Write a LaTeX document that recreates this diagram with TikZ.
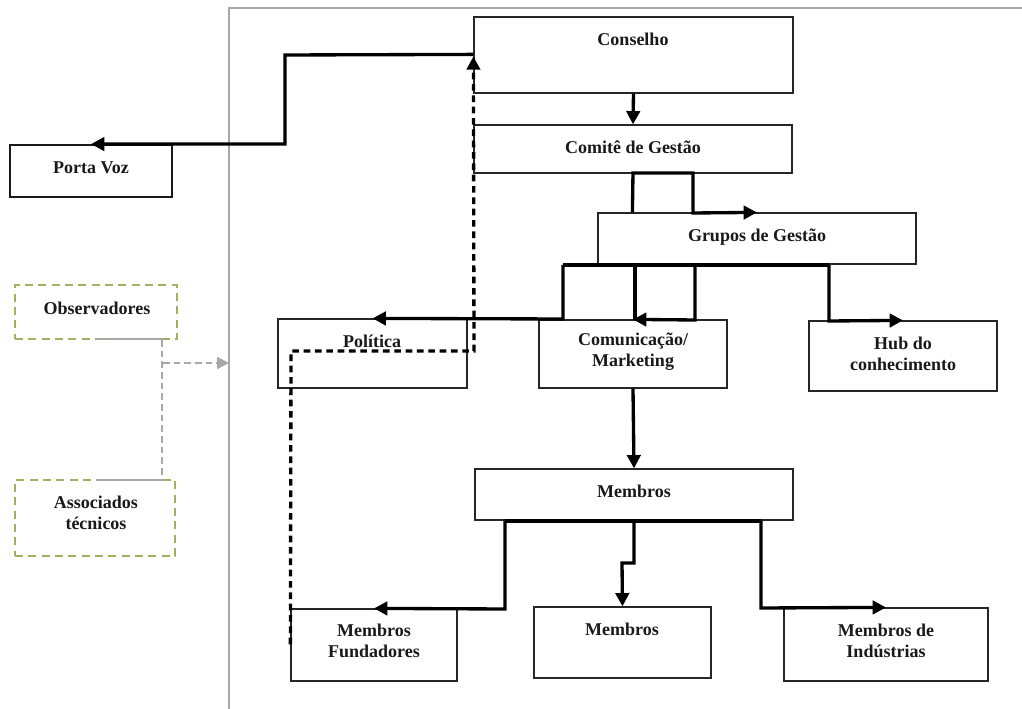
\documentclass[tikz,border=0pt]{standalone}
\usepackage{fontspec}
\setmainfont{Liberation Serif}
\usetikzlibrary{arrows.meta,calc}
\definecolor{boxgreen}{HTML}{9BB35F}
\definecolor{framegray}{HTML}{A8A8A8}
\newcommand\mybox[6]{\node[#6, minimum width={(#4-#2)*0.75pt}, minimum height={(#5-#3)*0.75pt}] (#1) at ({(#2+#4)/2},{(#3+#5)/2}) {};}
\begin{document}
\begin{tikzpicture}[x=0.75pt,y=-0.75pt,
  box/.style={draw=black!85, line width=0.9pt, inner sep=0pt, rectangle},
  pbox/.style={draw=black!90, line width=1.4pt, inner sep=0pt, rectangle},
  gbox/.style={draw=boxgreen, line width=1.7pt, dash pattern=on 6pt off 4pt, inner sep=0pt, rectangle},
  lbl/.style={font=\bfseries\fontsize{13.5}{15.5}\selectfont, align=center, inner sep=0pt, text=black!90},
  line/.style={line width=2.5pt},
  conn/.style={line width=2.5pt, -{Triangle[length=10pt,width=10pt]}},
  dconn/.style={line width=2.5pt, dash pattern=on 5pt off 3.5pt, -{Triangle[length=10pt,width=10pt]}},
  gline/.style={draw=framegray, line width=1.6pt},
  gdash/.style={draw=framegray, line width=1.6pt, dash pattern=on 5pt off 3pt},
  gconn/.style={draw=framegray, line width=1.6pt, dash pattern=on 5pt off 3pt, -{Triangle[length=9pt,width=9pt]}, fill=framegray},
  frame/.style={draw=framegray, line width=1.5pt}
]
\useasboundingbox (0,0) rectangle (1022,709);
% frame
\draw[frame] (229,709) -- (229,8) -- (1022,8);

% boxes
\mybox{porta}{10}{145}{172}{197}{pbox}
\mybox{conselho}{474}{17}{793}{93}{box}
\mybox{comite}{474}{125}{792}{173}{box}
\mybox{grupos}{598}{213}{916}{264}{box}
\mybox{politica}{278}{319}{467}{388}{box}
\mybox{comunic}{539}{320}{727}{388}{box}
\mybox{hub}{809}{321}{997}{391}{box}
\mybox{membros}{475}{469}{793}{520}{box}
\mybox{fund}{291}{609}{457}{681}{box}
\mybox{membrosb}{534}{607}{711}{678}{box}
\mybox{indust}{784}{608}{988}{681}{box}
\mybox{obs}{15}{285}{177}{339}{gbox}
\mybox{assoc}{15}{480}{175}{556}{gbox}

% labels
\node[lbl] (t-porta) at (91,168) {Porta Voz};
\node[lbl] (t-conselho) at (633,39) {Conselho};
\node[lbl] (t-comite) at (633,147) {Comitê de Gestão};
\node[lbl] (t-grupos) at (757,237) {Grupos de Gestão};
\node[lbl] (t-politica) at (372,341) {Política};
\node[lbl] (t-comunic) at (633,352) {Comunicação/\\Marketing};
\node[lbl] (t-hub) at (903,354) {Hub do\\conhecimento};
\node[lbl] (t-membros) at (634,491) {Membros};
\node[lbl] (t-fund) at (374,641) {Membros\\Fundadores};
\node[lbl] (t-membrosb) at (622,629) {Membros};
\node[lbl] (t-indust) at (886,641) {Membros de\\Indústrias};
\node[lbl] (t-obs) at (97,308) {Observadores};
\node[lbl] (t-assoc) at (96,513) {Associados\\técnicos};

% Conselho -> Porta Voz
\draw[conn] ($(conselho.north west)+(0,38)$) -- (285,55) |- (porta.north);
% dashed: Membros Fundadores -> Conselho
\draw[dconn] ($(fund.north west)+(0,36)$) -- (291,351) -- (474,351) -- ($(conselho.north west)+(0,40)$);
% Conselho -> Comite
\draw[conn] (conselho.south) -- (comite.north);
% Comite -> Grupos
\draw[conn] ($(grupos.north west)+(35,0)$) -- (633,173) -- (693,173) -- (693,213) -- (grupos.north);
% Grupos -> Politica / Comunicacao / Hub
\draw[line] (563,265) -- (829,265);
\draw[conn] (563,265) -- (563,319) -- (politica.north);
\draw[line] (635,265) -- (635,320);
\draw[conn] (695,265) -- (695,320) -- (comunic.north);
\draw[conn] (829,265) -- (829,321) -- (hub.north);
% Comunicacao -> Membros
\draw[conn] (comunic.south) -- (membros.north);
% Membros -> sub boxes
\draw[line] (505,521) -- (761,521);
\draw[conn] (505,521) -- (505,609) -- (fund.north);
\draw[conn] (634,521) -- (634,563) -- (622,563) -- (membrosb.north);
\draw[conn] (761,521) -- (761,608) -- (indust.north);

% gray links from Observadores / Associados
\draw[gline] (97,339) -- (163,339);
\draw[gline] (97,480) -- (163,480);
\draw[gdash] ($(obs.south west)+(148,0)$) -- ($(assoc.north west)+(148,0)$);
\draw[gconn] (163,363) -- (229,363);
\end{tikzpicture}
\end{document}
